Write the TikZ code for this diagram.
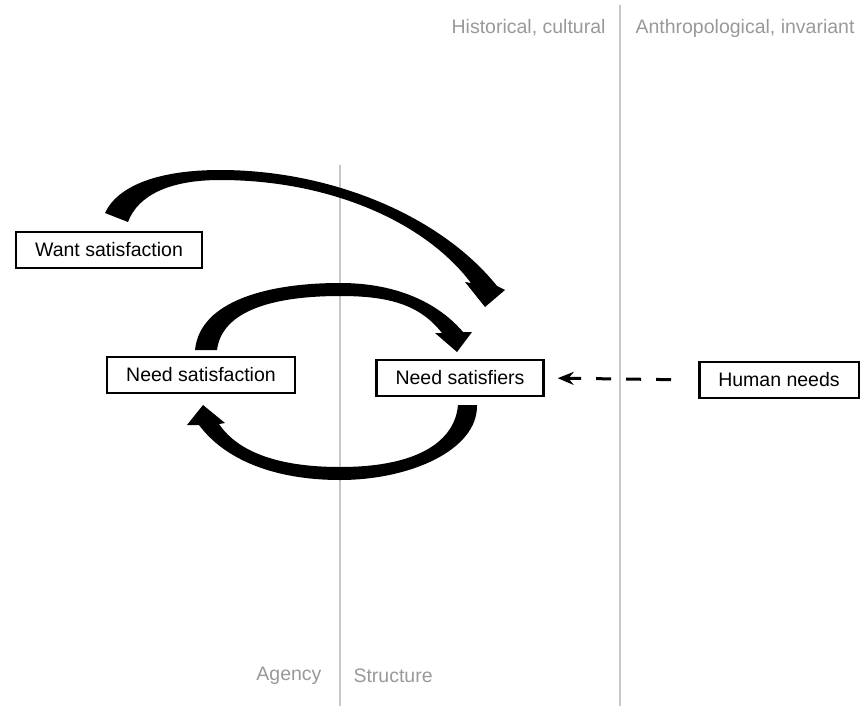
\documentclass[tikz,border=0pt]{standalone}
\usepackage{fontspec}
\setmainfont{Liberation Sans}
\usepackage{tikz}
\usetikzlibrary{positioning,calc,arrows.meta}

\tikzset{
	box/.style={draw, line width=2.4pt, inner xsep=19pt, minimum height=36pt, font=\fontsize{19.5}{22}\selectfont},
	side/.style={text=black!40, font=\fontsize{19.5}{22}\selectfont},
	divider/.style={black!22, line width=1.3pt},
}

\begin{document}
\begin{tikzpicture}[x=1pt, y=-1pt]
		\useasboundingbox (0,0) rectangle (861,706);
		
		% agency / structure and the two time scales
		\draw[divider] (340,165) -- (340,706);
		\draw[divider] (620,5) -- (620,706);
		\node[side, anchor=east] (hist) at (609,28) {Historical, cultural};
		\node[side, anchor=west] (anth) at (632,28) {Anthropological, invariant};
		\node[side, anchor=east] (agency) at (325,676) {Agency};
		\node[side, anchor=west] (struct) at (350,676) {Structure};
		
		\node[box] (want) at (109,250) {Want satisfaction};
		\node[box] (needsat) at (201,375) {Need satisfaction};
		\node[box] (satisfiers) at (460,378) {Need satisfiers};
		\node[box] (human) at (779,380) {Human needs};
		
		\draw[-{Stealth[length=16pt,width=13pt]}, line width=3pt, dash pattern=on 15pt off 15pt, shorten <=27pt, shorten >=13pt] (human.west)--(satisfiers.east);
		
		% want satisfaction -> need satisfiers
		\fill (105,213) .. controls (118,185) and (160,170) .. (220,170) .. controls (330,170) and (440,215) .. (497,286) -- (505,290) -- (485,307) -- (465,282) -- (471,283) .. controls (425,222) and (330,180) .. (220,180) .. controls (170,180) and (138,195) .. (128,222) -- cycle;
		% need satisfaction -> need satisfiers
		\fill (195,350) .. controls (200,300) and (270,283) .. (340,283) .. controls (400,283) and (440,305) .. (463,332) -- (472,332) -- (457,352) -- (435,333) -- (442,333) .. controls (420,305) and (390,296) .. (340,296) .. controls (275,296) and (222,310) .. (217,350) -- cycle;
		% need satisfiers -> need satisfaction
		\fill (477,405) .. controls (478,450) and (410,480) .. (340,480) .. controls (275,480) and (225,460) .. (199,425) -- (187,425) -- (203,405) -- (225,423) -- (219,424) .. controls (240,455) and (285,467) .. (340,467) .. controls (420,467) and (455,440) .. (458,405) -- cycle;
	\end{tikzpicture}
\end{document}
